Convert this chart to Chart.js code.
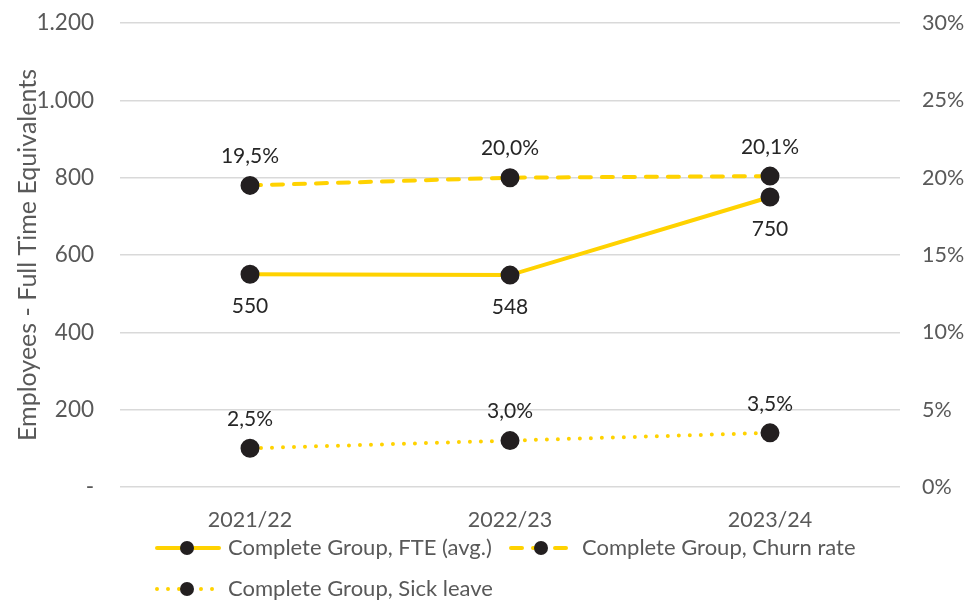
<!DOCTYPE html>
<html>
<head>
<meta charset="utf-8">
<script src="https://cdn.jsdelivr.net/npm/chart.js@4.4.0/dist/chart.umd.min.js"></script>
<style>
  html, body { margin: 0; padding: 0; background: #fff; }
  #wrap { width: 966px; height: 600px; }
</style>
</head>
<body>
<div id="wrap"><canvas id="myChart" width="966" height="600"></canvas></div>
<script>
const years = ['2021/22', '2022/23', '2023/24'];
const fteValues = [550, 548, 750];
const churnRate = [19.5, 20.0, 20.1];
const sickLeave = [2.5, 3.0, 3.5];
const fteLabels = ['550', '548', '750'];
const churnLabels = ['19,5%', '20,0%', '20,1%'];
const sickLabels = ['2,5%', '3,0%', '3,5%'];

const yellow = '#FFD200';
const dotColor = '#231F20';
const txtGray = '#595959';
const FONT = 'Lato, "Open Sans", sans-serif';

// draws the values next to the points
const valueLabels = {
    id: 'valueLabels',
    afterDatasetsDraw(chart) {
        const ctx = chart.ctx;
        ctx.save();
        ctx.font = '21px ' + FONT;
        ctx.fillStyle = '#262626';
        ctx.textAlign = 'center';
        ctx.textBaseline = 'middle';
        chart.data.datasets.forEach((ds, i) => {
            const meta = chart.getDatasetMeta(i);
            meta.data.forEach((pt, j) => {
                const off = ds.labelBelow ? 32 : -29;
                ctx.fillText(ds.valueText[j], pt.x, pt.y + off);
            });
        });
        ctx.restore();
    }
};

// legend with line + dot symbols like the original
const lineLegend = {
    id: 'lineLegend',
    afterDraw(chart) {
        const ctx = chart.ctx;
        const spots = [
            { x: 157, y: 548 },
            { x: 511, y: 548 },
            { x: 157, y: 589 }
        ];
        ctx.save();
        chart.data.datasets.forEach((ds, i) => {
            const s = spots[i];
            const len = ds.legendLen;
            ctx.strokeStyle = yellow;
            ctx.lineWidth = 4;
            ctx.lineCap = 'round';
            ctx.setLineDash(ds.borderDash || []);
            ctx.beginPath();
            ctx.moveTo(s.x, s.y);
            ctx.lineTo(s.x + len, s.y);
            ctx.stroke();
            ctx.setLineDash([]);
            ctx.fillStyle = dotColor;
            ctx.beginPath();
            ctx.arc(s.x + 30, s.y, 7, 0, Math.PI * 2);
            ctx.fill();
            ctx.font = '22px ' + FONT;
            ctx.fillStyle = txtGray;
            ctx.textAlign = 'left';
            ctx.textBaseline = 'middle';
            ctx.fillText(ds.label, s.x + 71, s.y);
        });
        ctx.restore();
    }
};

function noOverflow(s) {
    s.paddingTop = 0;
    s.paddingBottom = 0;
}

const ctx = document.getElementById('myChart').getContext('2d');

new Chart(ctx, {
    type: 'line',
    data: {
        labels: years,
        datasets: [{
            label: 'Complete Group, FTE (avg.)',
            data: fteValues,
            yAxisID: 'y',
            borderColor: yellow,
            borderWidth: 4,
            pointBackgroundColor: dotColor,
            pointBorderColor: dotColor,
            pointRadius: 7.5,
            valueText: fteLabels,
            labelBelow: true,
            legendLen: 62
        }, {
            label: 'Complete Group, Churn rate',
            data: churnRate,
            yAxisID: 'y1',
            borderColor: yellow,
            borderWidth: 4,
            borderDash: [11, 11],
            borderCapStyle: 'round',
            pointBackgroundColor: dotColor,
            pointBorderColor: dotColor,
            pointRadius: 7.5,
            valueText: churnLabels,
            labelBelow: false,
            legendLen: 58
        }, {
            label: 'Complete Group, Sick leave',
            data: sickLeave,
            yAxisID: 'y1',
            borderColor: yellow,
            borderWidth: 4,
            borderDash: [0, 11],
            borderCapStyle: 'round',
            pointBackgroundColor: dotColor,
            pointBorderColor: dotColor,
            pointRadius: 7.5,
            valueText: sickLabels,
            labelBelow: false,
            legendLen: 58
        }]
    },
    options: {
        responsive: false,
        animation: false,
        layout: { padding: { top: 23, bottom: 65, left: 0, right: 0 } },
        plugins: {
            legend: { display: false },
            tooltip: { enabled: false }
        },
        scales: {
            x: {
                offset: true,
                grid: { display: false, drawTicks: false },
                border: { display: false },
                ticks: { color: txtGray, font: { family: FONT, size: 21.5 }, padding: 20 },
                afterFit(s) { s.height = 48; }
            },
            y: {
                position: 'left',
                min: 0,
                max: 1200,
                ticks: {
                    stepSize: 200,
                    color: txtGray,
                    font: { family: FONT, size: 22.5 },
                    padding: 26,
                    callback: v => v === 0 ? '-' : v.toLocaleString('de-DE')
                },
                grid: { color: '#D9D9D9', lineWidth: 1.5, drawTicks: false },
                border: { display: false },
                title: {
                    display: true,
                    text: 'Employees - Full Time Equivalents',
                    color: txtGray,
                    font: { family: FONT, size: 25 },
                    padding: { top: 13, bottom: 0 }
                },
                afterFit(s) { s.width = 120; noOverflow(s); }
            },
            y1: {
                position: 'right',
                min: 0,
                max: 30,
                ticks: {
                    stepSize: 5,
                    color: txtGray,
                    font: { family: FONT, size: 21.5 },
                    padding: 22,
                    callback: v => v + '%'
                },
                grid: { display: false, drawTicks: false },
                border: { display: false },
                afterFit(s) { s.width = 66; noOverflow(s); }
            }
        }
    },
    plugins: [valueLabels, lineLegend]
});
</script>
</body>
</html>
